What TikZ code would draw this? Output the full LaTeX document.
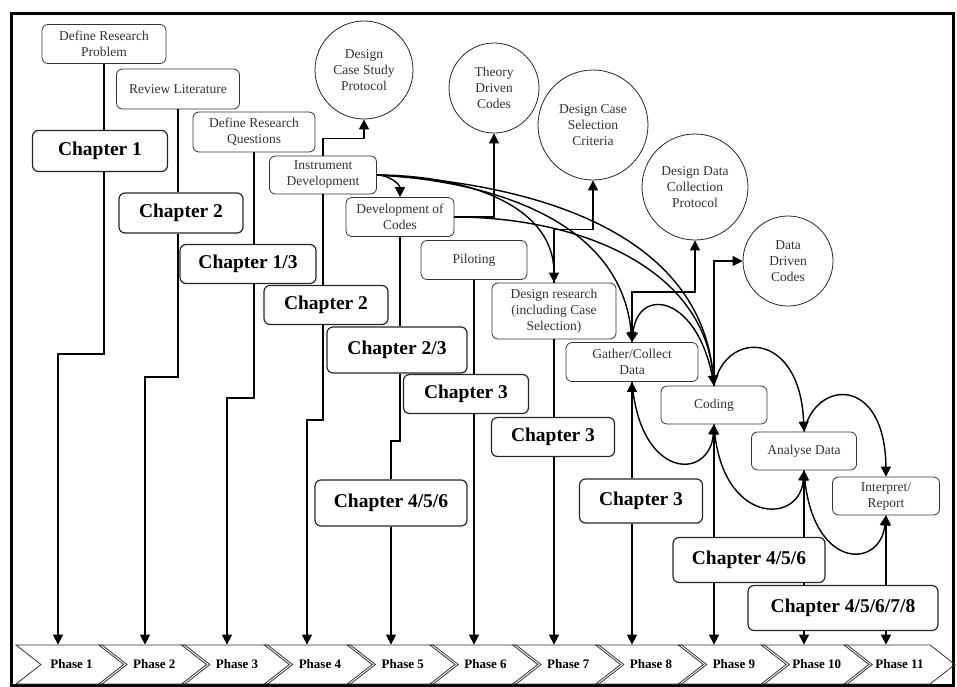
\documentclass[tikz,border=0pt]{standalone}
\usepackage{fontspec}
\setmainfont{Liberation Serif}
\usetikzlibrary{arrows.meta,shapes.symbols}
\newcommand\procfont{\fontsize{13.5}{16}\selectfont}
\newcommand\chapfont{\fontsize{19.5}{22}\selectfont\bfseries}
\newcommand\phasefont{\fontsize{13}{15}\selectfont\bfseries}
\tikzset{
  proc/.style={draw=black!80, line width=0.8pt, rounded corners=6pt, text=black!80, font=\procfont, align=center, inner sep=1pt},
  chap/.style={draw=black!85, line width=1.2pt, rounded corners=6pt, font=\chapfont, inner sep=1pt},
  circ/.style={circle, draw=black!85, line width=0.8pt, text=black!80, font=\procfont, align=center, inner sep=0pt},
  phase/.style={signal, signal to=east, signal from=west, signal pointer angle=76, draw=black!80, line width=0.8pt, font=\phasefont, minimum width=111pt, minimum height=39pt, inner sep=0pt},
  flow/.style={line width=1.4pt, -{Triangle[length=10pt,width=10pt]}},
  link/.style={line width=1.4pt}
}

\begin{document}
\begin{tikzpicture}[x=1pt,y=-1pt]
		%%%%% START %%%%%
		\useasboundingbox (0,0) rectangle (957,686);
		\draw[line width=3pt] (11,13) rectangle (953,685);
		
		% steps of the study
		\node[proc, minimum width=124, minimum height=39] (drp) at (104,44) {Define Research\\Problem};
		\node[proc, minimum width=123, minimum height=40] (rev) at (178,89) {Review Literature};
		\node[proc, minimum width=122, minimum height=40] (drq) at (254,132) {Define Research\\Questions};
		\node[proc, minimum width=107, minimum height=38] (ins) at (323,175) {Instrument\\Development};
		\node[proc, minimum width=108, minimum height=39] (doc) at (400,217) {Development of\\Codes};
		\node[proc, minimum width=106, minimum height=39] (pil) at (474,260) {Piloting};
		\node[proc, minimum width=124, minimum height=56] (des) at (554,311) {Design research\\(including Case\\Selection)};
		\node[proc, minimum width=132, minimum height=39] (gat) at (632,362) {Gather/Collect\\Data};
		\node[proc, minimum width=106, minimum height=38] (cod) at (714,405) {Coding};
		\node[proc, minimum width=105, minimum height=38] (ana) at (804,451) {Analyse Data};
		\node[proc, minimum width=107, minimum height=38] (int) at (886,496) {Interpret/\\Report};
		
		% outputs
		\node[circ, minimum size=98] (csp) at (364,70) {Design\\Case Study\\Protocol};
		\node[circ, minimum size=90] (tdc) at (494,88) {Theory\\Driven\\Codes};
		\node[circ, minimum size=110] (csc) at (593,125) {Design Case\\Selection\\Criteria};
		\node[circ, minimum size=106] (dcp) at (695,187) {Design Data\\Collection\\Protocol};
		\node[circ, minimum size=90] (ddc) at (788,261) {Data\\Driven\\Codes};
		
		% chapters
		\node[chap, minimum width=135, minimum height=41] (ch1) at (100,151) {Chapter 1};
		\node[chap, minimum width=124, minimum height=40] (ch2a) at (181,213) {Chapter 2};
		\node[chap, minimum width=136, minimum height=39] (ch13) at (248,264) {Chapter 1/3};
		\node[chap, minimum width=124, minimum height=39] (ch2b) at (326,305) {Chapter 2};
		\node[chap, minimum width=140, minimum height=46] (ch23) at (397,350) {Chapter 2/3};
		\node[chap, minimum width=125, minimum height=39] (ch3a) at (466,394) {Chapter 3};
		\node[chap, minimum width=123, minimum height=39] (ch3b) at (553,437) {Chapter 3};
		\node[chap, minimum width=152, minimum height=46] (ch456a) at (391,503) {Chapter 4/5/6};
		\node[chap, minimum width=123, minimum height=44] (ch3c) at (641,501) {Chapter 3};
		\node[chap, minimum width=152, minimum height=45] (ch456b) at (749,560) {Chapter 4/5/6};
		\node[chap, minimum width=190, minimum height=45] (ch45678) at (843,608) {Chapter 4/5/6/7/8};
		
		% phases
		\foreach \i in {1,...,11}
			\node[phase] (p\i) at ({71.5+(\i-1)*82.8},664.5) {Phase \i};
		
		% down to the phases
		\coordinate (e1) at (58,354);
		\coordinate (e2) at (145,377);
		\coordinate (e3) at (227,398);
		\coordinate (e4) at (307,420);
		\coordinate (e5) at (391,441);
		\draw[link] (drp.south) -- (drp.south |- ch1.north);
		\draw[flow] (drp.south |- ch1.south) |- (e1) -- (e1 |- p1.north);
		\draw[link] (rev.south) -- (rev.south |- ch2a.north);
		\draw[flow] (rev.south |- ch2a.south) |- (e2) -- (e2 |- p2.north);
		\draw[link] (drq.south) -- (drq.south |- ch13.north);
		\draw[flow] (drq.south |- ch13.south) |- (e3) -- (e3 |- p3.north);
		\draw[link] (ins.south) -- (ins.south |- ch2b.north);
		\draw[flow] (ins.south |- ch2b.south) |- (e4) -- (e4 |- p4.north);
		\draw[link] (doc.south) -- (doc.south |- ch23.north);
		\draw[link] (doc.south |- ch23.south) |- (e5) -- (e5 |- ch456a.north);
		\draw[flow] (ch456a.south) -- (ch456a.south |- p5.north);
		\draw[link] (pil.south) -- (pil.south |- ch3a.north);
		\draw[flow] (pil.south |- ch3a.south) -- (pil.south |- p6.north);
		\draw[link] (des.south) -- (des.south |- ch3b.north);
		\draw[flow] (des.south |- ch3b.south) -- (des.south |- p7.north);
		\draw[flow] (gat.south |- ch3c.north) -- (gat.south);
		\draw[flow] (gat.south |- ch3c.south) -- (gat.south |- p8.north);
		\draw[flow] (cod.south |- ch456b.north) -- (cod.south);
		\draw[flow] (cod.south |- ch456b.south) -- (cod.south |- p9.north);
		\draw[flow] (ana.south |- ch456b.north) -- (ana.south);
		\draw[link] (ana.south |- ch456b.south) -- (ana.south |- ch45678.north);
		\draw[flow] (ana.south |- ch45678.south) -- (ana.south |- p10.north);
		\draw[flow] (int.south |- ch45678.north) -- (int.south);
		\draw[flow] (int.south |- ch45678.south) -- (int.south |- p11.north);
		
		% up to the outputs
		\draw[flow] (ins.north) -- ++(0,-17) -| (csp.south);
		\draw[flow] (doc.east) -| (tdc.south);
		\draw[flow] (des.north) -- ++(0,-53) -| (csc.south);
		\draw[flow] (gat.north) -- ++(0,-50) -| (dcp.south);
		\draw[flow] (cod.north) |- (ddc.west);
		
		% links between the steps
		\draw[flow] (ins.east) to[out=0,in=90] (doc.north);
		\draw[flow] (ins.east) to[out=0,in=90] (des.north);
		\draw[flow] (ins.east) to[out=-3,in=95] (gat.north);
		\draw[flow] (ins.east) to[out=-3,in=95] (cod.north);
		\draw[flow] (doc.east) to[out=0,in=95] (cod.north);
		\draw[flow] (cod.north) .. controls +(-14,-91) and +(6,-57) .. (gat.north);
		\draw[flow] (cod.north) .. controls +(11,-56) and +(-4,-102) .. (ana.north);
		\draw[flow] (ana.north) .. controls +(11,-52) and +(-1,-102) .. (int.north);
		\draw[flow] (gat.south) .. controls +(8,99) and +(-4,56) .. (cod.south);
		\draw[flow] (cod.south) .. controls +(6,101) and +(-4,55) .. (ana.south);
		\draw[flow] (ana.south) .. controls +(6,100) and +(-6,55) .. (int.south);
		%%%%% END %%%%%
\end{tikzpicture}
\end{document}
